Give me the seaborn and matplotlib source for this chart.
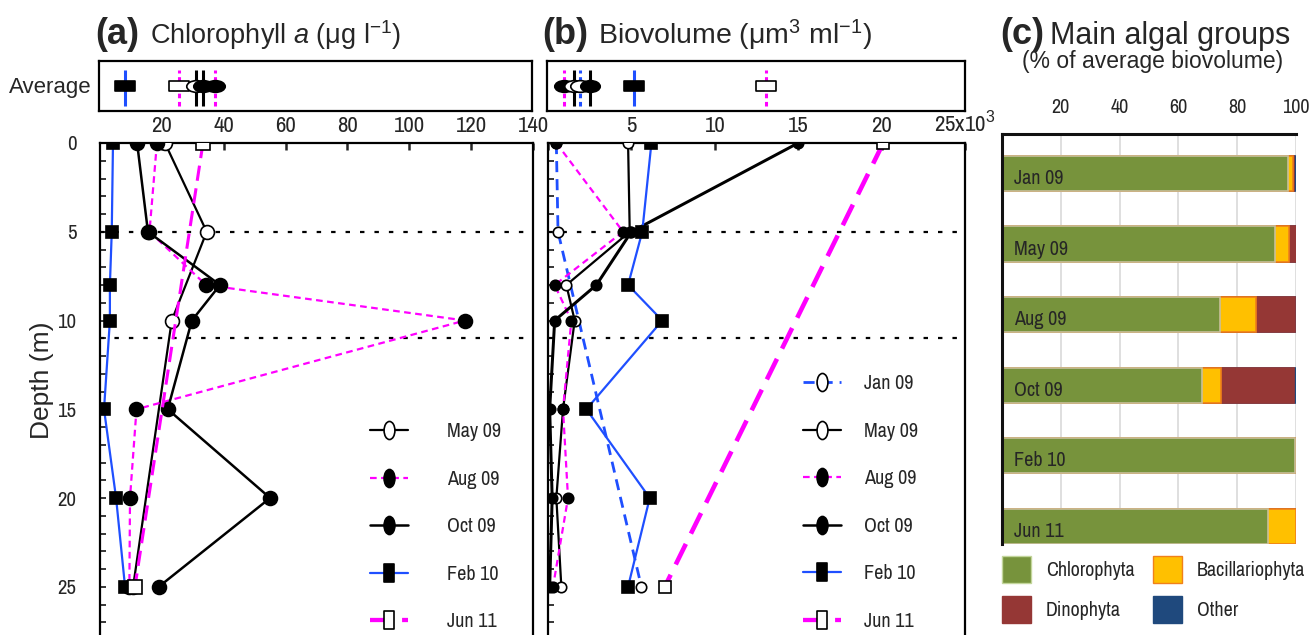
import seaborn as sns
import matplotlib.pyplot as plt
import numpy as np
import pandas as pd
from matplotlib import font_manager
from matplotlib.font_manager import FontProperties
from matplotlib.path import Path
from matplotlib.transforms import Affine2D
from matplotlib.lines import Line2D
from matplotlib.patches import Patch

sns.set_style("white")
plt.rcParams["font.family"] = ["Liberation Sans", "DejaVu Sans"]
plt.rcParams["mathtext.fontset"] = "custom"
plt.rcParams["mathtext.rm"] = "Liberation Sans"
plt.rcParams["mathtext.it"] = "Liberation Sans:italic"


# pick a condensed face if one is installed (the reference uses a narrow font)
def find_narrow():
    best, best_rank = None, 99
    for f in font_manager.fontManager.ttflist:
        low = f.fname.lower().replace("-", "").replace("_", "")
        if f.style != "normal" or f.weight not in (400, "normal", "regular"):
            continue
        if "bold" in low or "italic" in low or "light" in low or "medium" in low or "thin" in low:
            continue
        if "narrow" in low:
            rank = 0
        elif "condensed" in low and not any(k in low for k in ("semi", "extra", "ultra")):
            rank = 1 if "roboto" in low else 2 if "noto" in low else 3
        else:
            continue
        if rank < best_rank:
            best, best_rank = f.fname, rank
    return best


NARROW_FILE = find_narrow()


def nfp(size):
    if NARROW_FILE:
        return FontProperties(fname=NARROW_FILE, size=size)
    return FontProperties(family="Liberation Sans", size=size * 0.85)


# ---------------- data ----------------
# (a) chlorophyll a profiles (ug/l) by depth (m)
chl_depth_may = [0, 5, 10, 25]
chl_may = [21, 34.5, 23.2, 10.7]
chl_depth_full = [0, 5, 8, 10, 15, 20, 25]
chl_aug = [18.4, 16, 34.3, 118, 11.8, 9.7, 9.5]
chl_oct = [12, 15.5, 38.8, 29.7, 21.9, 55, 19]
chl_feb = [4.2, 3.8, 3.2, 3.2, 1.3, 5.2, 8.1]
chl_depth_jun = [0, 25]
chl_jun = [33.3, 11.3]

# (b) biovolume profiles (x10^3 um3/ml)
bv_depth_jan = [0, 5, 25]
bv_jan = [0.5, 0.6, 5.6]
bv_depth_full = [0, 5, 8, 10, 15, 20, 25]
bv_may = [4.8, 4.9, 1.1, 1.6, 0.9, 0.5, 0.8]
bv_aug = [0.5, 4.5, 0.4, 1.4, 0.9, 1.2, 0.3]
bv_oct = [15.0, 5.0, 2.9, 0.4, 0.1, 0.25, 0.1]
bv_feb = [6.2, 5.65, 4.8, 6.85, 2.3, 6.1, 4.8]
bv_depth_jun = [0, 25]
bv_jun = [20.1, 7.0]

# averages
avg_chl_series = ["Feb 10", "Jun 11", "May 09", "Oct 09", "Aug 09"]
avg_chl = [8.4, 26.0, 31.4, 33.5, 37.6]
avg_bv_series = ["Aug 09", "May 09", "Jan 09", "Oct 09", "Feb 10", "Jun 11"]
avg_bv = [1.0, 1.6, 2.0, 2.6, 5.2, 13.1]

mixing_depths = [5, 11]

# (c) main algal groups (% of average biovolume)
months_c = ["Jan 09", "May 09", "Aug 09", "Oct 09", "Feb 10", "Jun 11"]
chlorophyta = [97.3, 92.9, 74.1, 68.0, 99.8, 90.5]
bacillariophyta = [1.7, 4.7, 12.3, 6.5, 0.0, 9.5]
dinophyta = [0.3, 2.4, 13.3, 24.8, 0.0, 0.0]
other = [0.7, 0.0, 0.3, 0.7, 0.2, 0.0]

# ---------------- styles ----------------
BLUE = "#1f4fff"
MAG = "#ff00ff"
styles = {
    "Jan 09": dict(color=BLUE, ls=(0, (4, 2.5)), lw=2.0, marker="o", mfc="white"),
    "May 09": dict(color="black", ls="-", lw=1.6, marker="o", mfc="white"),
    "Aug 09": dict(color=MAG, ls=(0, (3, 2)), lw=1.6, marker="o", mfc="black"),
    "Oct 09": dict(color="black", ls="-", lw=1.8, marker="o", mfc="black"),
    "Feb 10": dict(color=BLUE, ls="-", lw=1.6, marker="s", mfc="black"),
    "Jun 11": dict(color=MAG, ls=(0, (5, 2.5)), lw=2.2, marker="s", mfc="white"),
}

rect_marker = Path([(-1, -0.5), (1, -0.5), (1, 0.5), (-1, 0.5), (-1, -0.5)],
                   [Path.MOVETO, Path.LINETO, Path.LINETO, Path.LINETO, Path.CLOSEPOLY])
ell_marker = Path.unit_circle().transformed(Affine2D().scale(1, 0.6))
tall_rect = Path([(-0.5, -1), (0.5, -1), (0.5, 1), (-0.5, 1), (-0.5, -1)],
                 [Path.MOVETO, Path.LINETO, Path.LINETO, Path.LINETO, Path.CLOSEPOLY])
tall_ell = Path.unit_circle().transformed(Affine2D().scale(0.6, 1))

W, H = 1309, 635
fig = plt.figure(figsize=(W / 100, H / 100), dpi=100)


def box(x0, y0, x1, y1):
    return [x0 / W, 1 - y1 / H, (x1 - x0) / W, (y1 - y0) / H]


ax_a = fig.add_axes(box(100, 143, 533, 640))
ax_b = fig.add_axes(box(548, 143, 965, 640))
av_a = fig.add_axes(box(99, 61, 532, 111))
av_b = fig.add_axes(box(547, 61, 965, 111))
ax_c = fig.add_axes(box(1002, 134, 1296, 544))


def profile(ax, name, x, y, ms_circle, ms_square, lw_scale=1.0):
    st = styles[name]
    ms = ms_circle if st["marker"] == "o" else ms_square
    sns.lineplot(x=x, y=y, ax=ax, orient="y", estimator=None, errorbar=None,
                 color=st["color"], linestyle=st["ls"], linewidth=st["lw"] * lw_scale,
                 marker=st["marker"], markersize=ms, markerfacecolor=st["mfc"],
                 markeredgecolor="black", markeredgewidth=1.2, zorder=3)


# ---------------- panel (a) ----------------
profile(ax_a, "May 09", chl_may, chl_depth_may, 10, 9)
profile(ax_a, "Aug 09", chl_aug, chl_depth_full, 10, 9)
profile(ax_a, "Oct 09", chl_oct, chl_depth_full, 10, 9)
profile(ax_a, "Feb 10", chl_feb, chl_depth_full, 10, 9)
profile(ax_a, "Jun 11", chl_jun, chl_depth_jun, 10, 9.5)

# ---------------- panel (b) ----------------
profile(ax_b, "Jan 09", bv_jan, bv_depth_jan, 7.5, 8)
profile(ax_b, "May 09", bv_may, bv_depth_full, 7.5, 8)
profile(ax_b, "Aug 09", bv_aug, bv_depth_full, 7.5, 8)
profile(ax_b, "Oct 09", bv_oct, bv_depth_full, 7.5, 8, lw_scale=1.2)
profile(ax_b, "Feb 10", bv_feb, bv_depth_full, 7.5, 8)
profile(ax_b, "Jun 11", bv_jun, bv_depth_jun, 7.5, 8, lw_scale=1.5)

for ax, xmax, xt in [(ax_a, 140, [20, 40, 60, 80, 100, 120, 140]),
                     (ax_b, 25, [0, 5, 10, 15, 20, 25])]:
    for d in mixing_depths:
        ax.axhline(d, color="black", lw=1.6, ls=(0, (2, 4.5)), zorder=1)
    ax.set_xlim(0, xmax)
    ax.set_ylim(28, 0)
    ax.xaxis.tick_top()
    ax.set_xticks(xt)
    ax.set_yticks(np.arange(0, 28))
    ax.tick_params(axis="x", direction="in", length=5, width=1.8, top=True, bottom=False, pad=5)
    ax.tick_params(axis="y", direction="in", length=4, width=1.3, left=True, right=False)
    ax.set_xlabel("")
    ax.set_ylabel("")
    for s in ax.spines.values():
        s.set_linewidth(1.6)
        s.set_color("black")

ax_a.set_yticklabels([str(d) if d % 5 == 0 else "" for d in range(28)])
ax_a.tick_params(axis="y", pad=17)
ax_b.set_yticklabels([])
ax_b.set_xticklabels(["", "5", "10", "15", "20", "25x10$^{3}$"])
for ax in (ax_a, ax_b):
    for lab in ax.get_xticklabels():
        lab.set_fontproperties(nfp(16.5))
for lab in ax_a.get_yticklabels():
    lab.set_fontproperties(nfp(15))


# legends
def handle(name, ms):
    st = styles[name]
    mk = tall_ell if st["marker"] == "o" else tall_rect
    return Line2D([], [], color=st["color"], ls=st["ls"], lw=st["lw"] * (1.4 if name == "Jun 11" else 1),
                  marker=mk, markersize=ms, markerfacecolor=st["mfc"], markeredgecolor="black",
                  markeredgewidth=1.2)


leg_a = ["May 09", "Aug 09", "Oct 09", "Feb 10", "Jun 11"]
ax_a.legend([handle(n, 13) for n in leg_a], leg_a, loc="upper left",
            bbox_to_anchor=((370 - 100) / 433, (640 - 422) / 497), frameon=False,
            borderpad=0, borderaxespad=0, handlelength=1.9, handletextpad=1.9,
            labelspacing=1.42, prop=nfp(14.5))
leg_b = ["Jan 09", "May 09", "Aug 09", "Oct 09", "Feb 10", "Jun 11"]
ax_b.legend([handle(n, 13) for n in leg_b], leg_b, loc="upper left",
            bbox_to_anchor=((803 - 548) / 417, (640 - 374) / 497), frameon=False,
            borderpad=0, borderaxespad=0, handlelength=1.9, handletextpad=1.15,
            labelspacing=1.42, prop=nfp(14.5))

# ---------------- average strips ----------------
avg_marker = {"Feb 10": (rect_marker, "black"), "Jun 11": (rect_marker, "white"),
              "May 09": (ell_marker, "white"), "Oct 09": (ell_marker, "black"),
              "Aug 09": (ell_marker, "black"), "Jan 09": (ell_marker, "white")}
for ax, series, vals, xmax, xt in [(av_a, avg_chl_series, avg_chl, 140, [0, 20, 40, 60, 80, 100, 120]),
                                   (av_b, avg_bv_series, avg_bv, 25, [0, 5, 10, 15, 20])]:
    for n, v in zip(series, vals):
        st = styles[n]
        ls = "-" if st["ls"] == "-" else (0, (1.5, 1.2))
        ax.vlines(v, 0.1, 0.82, color=st["color"], lw=2.2, linestyles=[ls], zorder=2)
    for n, v in zip(series, vals):
        mk, fc = avg_marker[n]
        ax.plot([v], [0.5], ls="none", marker=mk, markersize=14, markerfacecolor=fc,
                markeredgecolor="black", markeredgewidth=1.2, zorder=3)
    ax.set_xlim(0, xmax)
    ax.set_ylim(0, 1)
    ax.set_yticks([])
    ax.set_xticks(xt)
    ax.tick_params(axis="x", direction="in", length=4, width=1.8, labelbottom=False)
    for s in ax.spines.values():
        s.set_linewidth(1.6)
        s.set_color("black")

# ---------------- panel (c) ----------------
cum1 = np.array(chlorophyta)
cum2 = cum1 + np.array(bacillariophyta)
cum3 = cum2 + np.array(dinophyta)
cum4 = cum3 + np.array(other)
layers = [(cum4, "#1f497d", "#1f497d"), (cum3, "#953735", "#953735"),
          (cum2, "#ffc000", "#f0801a"), (cum1, "#77933c", "#c8bf9a")]
for vals, fc, ec in layers:
    sns.barplot(x=vals, y=months_c, orient="h", color=fc, saturation=1, width=0.5,
                edgecolor=ec, linewidth=1.2, ax=ax_c)
ax_c.set_xlim(0, 100)
ax_c.set_ylim(5.25, -0.56)
ax_c.xaxis.tick_top()
ax_c.set_xticks([20, 40, 60, 80, 100])
ax_c.tick_params(axis="x", length=0, pad=12)
for lab in ax_c.get_xticklabels():
    lab.set_fontproperties(nfp(14.5))
ax_c.set_yticks([])
ax_c.set_xlabel("")
ax_c.set_ylabel("")
ax_c.set_axisbelow(True)
ax_c.grid(axis="x", color="#d9d9d9", lw=1.2)
for side in ["right", "bottom"]:
    ax_c.spines[side].set_visible(False)
for side in ["top", "left"]:
    ax_c.spines[side].set_linewidth(2.2)
    ax_c.spines[side].set_color("#111111")
for i, m in enumerate(months_c):
    ax_c.text(4.2, i + 0.07, m, va="center", ha="left", fontproperties=nfp(14.5))

grp_handles = [Patch(fc="#77933c", ec="#c3d69b"), Patch(fc="#953735", ec="#953735"),
               Patch(fc="#ffc000", ec="#f0801a"), Patch(fc="#1f497d", ec="#1f497d")]
fig.legend(grp_handles, ["Chlorophyta", "Dinophyta", "Bacillariophyta", "Other"], ncol=2,
           loc="upper left", bbox_to_anchor=(1002 / W, 1 - 556 / H), frameon=False,
           borderpad=0, borderaxespad=0, handlelength=1.45, handleheight=1.7,
           handletextpad=0.75, columnspacing=0.9, labelspacing=0.65, prop=nfp(14.4))


# ---------------- titles & labels ----------------
def ftext(x, y, s, **kw):
    fig.text(x / W, 1 - y / H, s, va="baseline", ha="left", **kw)


ftext(95, 44, "(a)", fontsize=26, fontweight="bold")
ftext(150, 44, r"Chlorophyll $a$ (μg l$^{\mathregular{-1}}$)", fontsize=19.5)
ftext(542, 44, "(b)", fontsize=26, fontweight="bold")
ftext(598, 44, r"Biovolume (μm$^{\mathregular{3}}$ ml$^{\mathregular{-1}}$)", fontsize=20.5)
ftext(1000, 44, "(c)", fontsize=26, fontweight="bold")
ftext(1050, 44, "Main algal groups", fontsize=22)
fig.text(1153 / W, 1 - 68 / H, "(% of average biovolume)", fontsize=16.5, ha="center", va="baseline")
fig.text(92 / W, 1 - 88 / H, "Average", fontsize=16, ha="right", va="center")
fig.text(42 / W, 1 - 380 / H, "Depth (m)", fontsize=19, ha="center", va="center", rotation=90)

fig.savefig("out.png", dpi=100)
plt.close(fig)
